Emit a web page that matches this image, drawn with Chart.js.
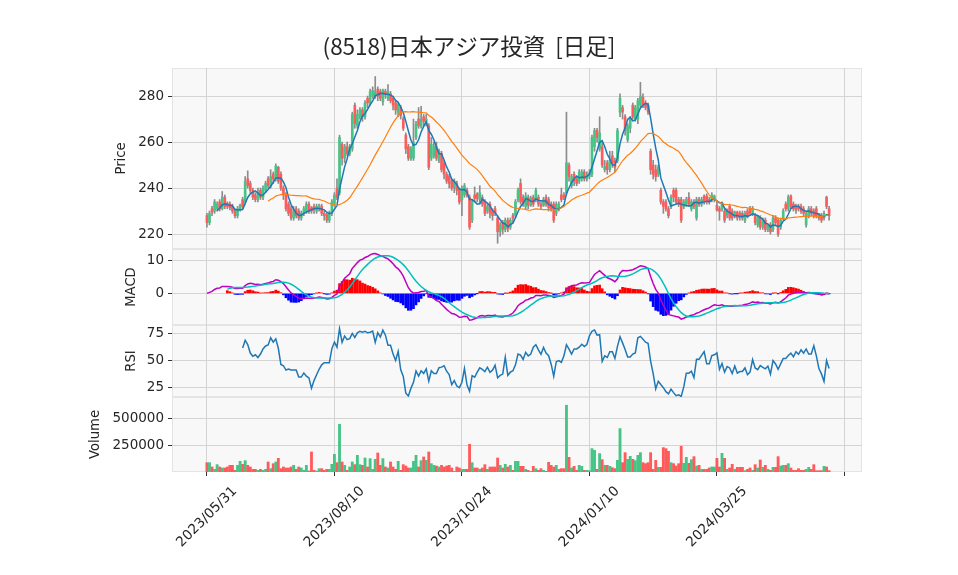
<!DOCTYPE html>
<html>
<head>
<meta charset="utf-8">
<script src="https://cdn.jsdelivr.net/npm/chart.js@4.4.1/dist/chart.umd.min.js"></script>
<style>
html, body { margin: 0; padding: 0; background: #fff; }
#wrap { position: relative; width: 958px; height: 575px; }
</style>
</head>
<body>
<div id="wrap"><canvas id="chart" width="958" height="575"></canvas></div>
<script>
// daily candles, index 0 = 2023/05/31
var opens = [
228,225,231,230,231,234,231,236,233.5,233,
232,230,228,231,235,234,244,242,239,237,
235,239,236,239,244,241,246,244,249,246,
240,237,233,231,227,231,230,227,229,230,
233,231.5,232,230,231,232,229,228.5,226,229,
233,240,238,259,253,258,255,257,276,267,
271,274,271,279,277,280,280,283,282,277.5,
282,279,281,279,277,273,275,270,263,258,
253,253,262,270,267,271,268,267,253,254,
258,252,255,251,246,245,243,240,242,239.5,
235,237,239,236,226,237,237.5,235,236,234,
230,233,230,231,227,221,225,222,226,223,
228,228,235,242,236,232,236,232.5,236,235,
236,233,232.5,236,235,233,233,229,231,237,
237,238,250,241,246,244,243,244,247,244,
245,246,258,265,257,258,248,251,248,254,
252,252,273,275,271,261,266,276,270,270,
276,279.5,277,276,256,250,248,246,239,234,
234,231,232,239,239,235,235,232,233,236,
231,234,227,235,233,236.5,236.5,235,235,235,
232.5,231,231,230,228,232,230,228,229.5,229,
229,226,230,231,229,228,224,227,223,226,
222,224,222,227,226,223,227,233,231,236.5,
233,232,232,232,231,224,228,231,230,231,
228,228,227,236,231
];
var highs = [
229,230,232,235,234,235,238.5,237,234,234,
233,231,232,233,236,245,247.5,243,240,238,
240,240,241,243,245,248,247,250.5,249.5,247,
241,238,234,232,232,232,231,230,232,234,
234,232,233,233,233,233,230,229,230,235,
238,244,263,260,259,260,259,273,277,274,
275,275,278,280,283,284,288.5,284,283,283,
283,285,282,280,278,277,276,271,264,259,
258,270,269,275,275.5,272,272,268,262,260,
260,257,256,252,247,246,244,244,243,240,
241,242,240,237,235,240.5,238,241,237,235,
233,234,231,232,228,225,226,227,227,227,
229,235,240,244,237,238,237,236.5,237,240,
237,234,236,237,236,234,234,234,234,240,
238,273,251,246,247,245,248,248,248,247,
248,263,266,266,271,260,252,252,256,256,
253,266,281,276,272,268,271,277,276,279,
286,281,278,277,257,252,250,250,240,235,
235,232,237,240,240,236,236,235,236,238,
235,235,236,236,236,237,237.5,236,238,237,
234,232,234,231,231,233,231,230,230,230,
230,230,231,232,232,229,228,228,227,227,
224,225,228,228,227,227,231,234,237,237,
234,233,233,233,232,230,232,232,231,232,
229,229,230,236.5,232
];
var lows = [
223,224,228,229,230,230,230.5,231,231,230.5,
229,227,227,230,231,233,240,238,235,234,
234,235,235,238,240,240,242,243,242,239,
235,230,228,226,226,227,226,226,228,229,
229,229,229,229,230,228,226,225,225,228,
232,235,237,250,251,254,254,256,266,266,
270,269,270,275,276,279,279,278,278,276,
279,278,277,274,272,271,270,265,255,252,
252,252,261,266,266,267,267,248,252,253,
252,251,247,244,242,240,239,238,237,233,
228,236,236,222,225,234,234,233,232,228,
229,227,226,228,216,219,220,221,221,222,
225,227,234,233,232,231,231,232,232,234,
232,231,232,232,230,230,225,228,230,234,
235,237,243,240,241,241,242,243,243,243,
244,245,256,260,256,249,247,246,247,249,
247,251,271,270,263,260,264,270,269,268,
275,275,274,272,246,244,243,245,233,229,
230,227,231,234,233,232,225,231,232,232,
230,231,226,232,232,233,233,233,234,234,
230,226,230,225,227,226,226,227,226,226,
226,225,227,228,228,224,223,222,222,221,
221,220,221,224,219,222,226,230,230,231,
230,229,230,229,228,223,227,228,227,227,
226,225,226,231,226
];
var closes = [
225,229,229.5,234,233,231,236,232,232,231.5,
230,228,231,232.5,232,243,241,239,236,235,
238,236,240,242,241,245,244,249.5,243,240,
237,231,229,227,230,228,227,229,231,233,
230,230,231,232,232.5,229,228,226,229,234,
237,236,262,253,258,255,258,272,268,272,
274,271,277,277,282,282.5,282,280,279,282.5,
280.5,282,278,276,274,276.5,271.5,266,257,253,
257,260,268,267,270,269,270,249,259,258,
253,256,248,246,243,242,240,243,239,234,
240,241,237,223,234,235.5,235.5,238,233,229,
232,229,228,229,221,224,222,226,222.5,226,
227,234,239,234,233,236.5,232.5,235.5,233,239,
233,232,235,233,231.5,231,226,233,233,235,
236,251,245,245,243,242,247,247,244,245.5,
246.5,262,265,262,264,250,249.5,248,252,251,
249,265,279,273,265,267,270,271,275,278,
280,276,275,273,248,246,245,249,234,232,
231,228,236,236,234,233,226,234,235,233,
234,232,235,233,235,234.5,234,234,237,236.5,
230.5,230,233.5,226,230,227,227,229.5,227,227.5,
227,229,228,229,231,225,227.5,223,226,222,
223.5,221,227,225,220,226,230,231,236,232,
231,230.5,231,230,229,229,231,229,228,228,
227,226,229,232,228
];
var volumes = [
87500,87500,46900,25000,68800,46900,37500,37500,46900,62500,
62500,15600,62500,100000,71900,106300,62500,46900,25000,25000,
15600,25000,15600,25000,93800,31300,78100,93800,128100,31300,
46900,37500,37500,46900,62500,25000,46900,37500,15600,62500,
9400,187500,15600,9400,31300,31300,15600,25000,25000,71900,
165600,87500,446900,93800,62500,15600,46900,93800,68800,156300,
68800,62500,131300,46900,125000,25000,118800,178100,62500,125000,
46900,37500,93800,46900,25000,100000,15600,68800,56300,37500,
37500,100000,156300,46900,106300,140600,109400,187500,78100,62500,
56300,46900,62500,46900,56300,62500,37500,6300,46900,37500,
25000,25000,25000,259400,87500,37500,37500,25000,37500,68800,
25000,46900,46900,46900,131300,62500,37500,71900,46900,62500,
15600,100000,100000,53100,53100,25000,15600,6300,53100,31300,
15600,31300,15600,6300,90600,62500,46900,62500,25000,31300,
31300,625000,137500,37500,53100,15600,62500,53100,15600,15600,
12500,218800,203100,25000,171900,115600,62500,62500,53100,40600,
31300,109400,406300,87500,181300,118800,146900,118800,106300,156300,
181300,87500,78100,87500,181300,25000,109400,43800,43800,228100,
218800,193800,87500,78100,56300,78100,240600,81300,137500,81300,
115600,143800,56300,62500,25000,25000,25000,37500,46900,46900,
128100,46900,175000,128100,25000,37500,71900,25000,43800,43800,
43800,12500,25000,37500,15600,68800,37500,112500,43800,62500,
25000,15600,43800,43800,143800,56300,62500,62500,78100,37500,
15600,15600,31300,15600,15600,25000,43800,25000,68800,12500,
12500,12500,53100,46900,12500
];
var tickDays = [0, 50, 100, 150, 200, 250];
var tickLabels = ["2023/05/31", "2023/08/10", "2023/10/24", "2024/01/10", "2024/03/25", ""];
var title = "(8518)日本アジア投資  [日足]";

var UP = '#45c486', DOWN = '#ff5b5b';

// indicators from the closes
function sma(arr, n) {
  return arr.map(function (v, i) {
    if (i < n - 1 || arr[i - n + 1] == null) return null;
    var s = 0;
    for (var k = i - n + 1; k <= i; k++) s += arr[k];
    return s / n;
  });
}
function ema(arr, n) {
  var a = 2 / (n + 1), prev, out = [];
  arr.forEach(function (v, i) { prev = i === 0 ? v : a * v + (1 - a) * prev; out.push(prev); });
  return out;
}
var ma5 = sma(closes, 5), ma25 = sma(closes, 25);
var e12 = ema(closes, 12), e26 = ema(closes, 26);
var macd = e12.map(function (v, i) { return v - e26[i]; });
var signal = sma(macd, 9);
var hist = macd.map(function (v, i) { return signal[i] == null ? null : v - signal[i]; });
var rsi = closes.map(function (c, i) {
  if (i < 14) return null;
  var up = 0, dn = 0;
  for (var k = i - 13; k <= i; k++) {
    var d = closes[k] - closes[k - 1];
    if (d > 0) up += d; else dn -= d;
  }
  return 100 * up / (up + dn);
});

function pts(arr) {
  var out = [];
  arr.forEach(function (v, i) { if (v != null) out.push({ x: i, y: v }); });
  return out;
}
var idx = closes.map(function (c, i) { return i; });
var candleCol = idx.map(function (i) { return closes[i] >= opens[i] ? UP : DOWN; });

var GRID = '#d4d4d4', TICK = '#333', TXT = '#262626';
var FONT = "'DejaVu Sans', sans-serif";
Chart.defaults.font.family = FONT;
Chart.defaults.font.size = 13.5;

function fixTicks(vals) {
  return function (s) { s.ticks = vals.map(function (v) { return { value: v }; }); };
}
function yAxis(weight, min, max, vals) {
  return {
    type: 'linear', position: 'left', stack: 'panels', stackWeight: weight,
    min: min, max: max,
    afterBuildTicks: fixTicks(vals),
    afterFit: function (s) { s.width = 172; },
    ticks: { color: TXT, padding: 4, callback: function (v) { return String(v); } },
    grid: { color: GRID, tickColor: TICK, tickLength: 4, lineWidth: 1 },
    border: { display: false }
  };
}

var panelBg = {
  id: 'panelBg',
  beforeDraw: function (chart) {
    var ctx = chart.ctx, a = chart.chartArea;
    ctx.save();
    ['yP', 'yM', 'yR', 'yV'].forEach(function (id) {
      var s = chart.scales[id];
      ctx.fillStyle = '#f8f8f8';
      ctx.fillRect(a.left, s.top, a.right - a.left, s.bottom - s.top);
      ctx.strokeStyle = '#e4e4e4';
      ctx.lineWidth = 1;
      ctx.strokeRect(a.left + 0.5, s.top + 0.5, a.right - a.left - 1, s.bottom - s.top - 1);
    });
    ctx.restore();
  }
};
var labels = {
  id: 'labels',
  afterDraw: function (chart) {
    var ctx = chart.ctx, xs = chart.scales.x;
    ctx.save();
    ctx.fillStyle = TXT;
    ctx.textAlign = 'center';
    ctx.textBaseline = 'middle';
    ctx.font = "22.5px 'Noto Sans CJK JP'";
    ctx.fillText(title, 469, 46);
    ctx.font = "13.2px " + FONT;
    [['Price', 122, 'yP'], ['MACD', 132, 'yM'], ['RSI', 132, 'yR'], ['Volume', 96, 'yV']].forEach(function (t) {
      var s = chart.scales[t[2]];
      ctx.save();
      ctx.translate(t[1], (s.top + s.bottom) / 2);
      ctx.rotate(-Math.PI / 2);
      ctx.fillText(t[0], 0, 0);
      ctx.restore();
    });
    // date labels, rotated 45 degrees and centred under their tick
    ctx.font = "13.7px " + FONT;
    tickDays.forEach(function (d, k) {
      if (!tickLabels[k]) return;
      ctx.save();
      ctx.translate(xs.getPixelForValue(d), 517);
      ctx.rotate(-Math.PI / 4);
      ctx.fillText(tickLabels[k], 0, 0);
      ctx.restore();
    });
    ctx.restore();
  }
};

new Chart(document.getElementById('chart'), {
  type: 'line',
  data: {
    datasets: [
      { type: 'bar', yAxisID: 'yP', data: idx.map(function (i) { return { x: i, y: [lows[i], highs[i]] }; }),
        backgroundColor: '#8c8c8c', barThickness: 1, grouped: false, order: 5 },
      { type: 'bar', yAxisID: 'yP', data: idx.map(function (i) { return { x: i, y: [opens[i], closes[i]] }; }),
        backgroundColor: candleCol, barThickness: 2, minBarLength: 1, grouped: false, order: 4 },
      { yAxisID: 'yP', data: pts(ma5), borderColor: '#1f77b4', borderWidth: 1.5, pointRadius: 0, tension: 0, order: 2 },
      { yAxisID: 'yP', data: pts(ma25), borderColor: '#ff7f0e', borderWidth: 1.2, pointRadius: 0, tension: 0, order: 1 },
      { type: 'bar', yAxisID: 'yM', data: pts(hist),
        backgroundColor: hist.filter(function (v) { return v != null; }).map(function (v) { return v >= 0 ? '#ff0000' : '#0000ff'; }),
        barThickness: 2, grouped: false, order: 4 },
      { yAxisID: 'yM', data: pts(macd), borderColor: '#bf00bf', borderWidth: 1.5, pointRadius: 0, tension: 0, order: 2 },
      { yAxisID: 'yM', data: pts(signal), borderColor: '#00bfbf', borderWidth: 1.5, pointRadius: 0, tension: 0, order: 1 },
      { yAxisID: 'yR', data: pts(rsi), borderColor: '#1f77b4', borderWidth: 1.5, pointRadius: 0, tension: 0 },
      { type: 'bar', yAxisID: 'yV', data: pts(volumes), backgroundColor: candleCol, barThickness: 2.2, grouped: false }
    ]
  },
  options: {
    responsive: false,
    animation: false,
    layout: { padding: { left: 0, right: 96, top: 68, bottom: 0 } },
    plugins: { legend: { display: false }, tooltip: { enabled: false } },
    scales: {
      x: {
        type: 'linear', min: -13.7, max: 256.9, offset: false,
        afterBuildTicks: fixTicks(tickDays),
        afterFit: function (s) { s.height = 103; },
        ticks: { display: false },
        grid: { color: GRID, tickColor: TICK, tickLength: 4, offset: false },
        border: { display: false }
      },
      yV: yAxis(75, 0, 702000, [250000, 500000]),
      yR: yAxis(72, 15.9, 83.2, [25, 50, 75]),
      yM: yAxis(76, -9.57, 13.45, [0, 10]),
      yP: yAxis(181, 213.5, 292.2, [220, 240, 260, 280])
    }
  },
  plugins: [panelBg, labels]
});
</script>
</body>
</html>
